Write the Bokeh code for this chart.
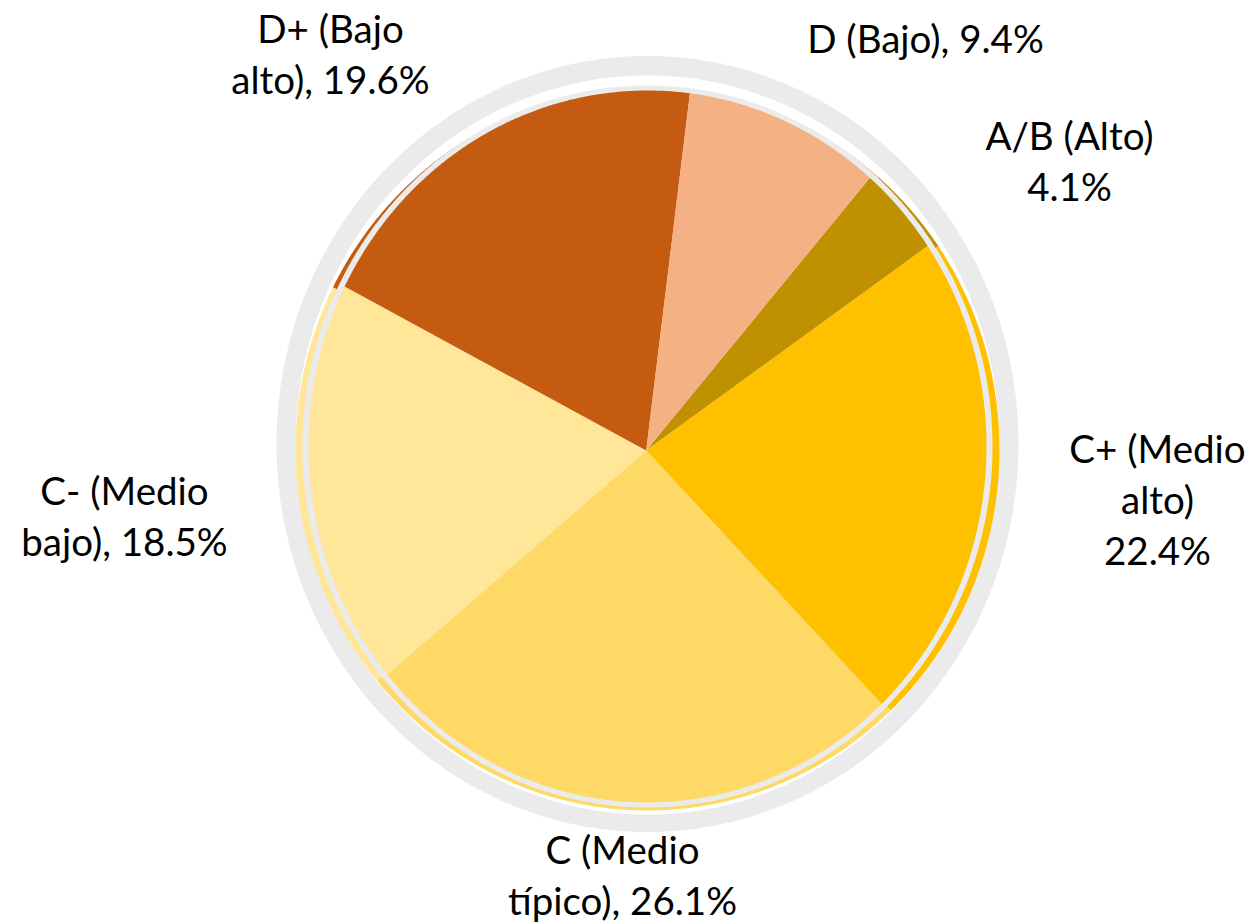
import numpy as np
from bokeh.plotting import figure
from bokeh.models import Range1d
from bokeh.embed import file_html
from bokeh.resources import INLINE
from bokeh.core.properties import value

# ---------------- data ----------------
categories = ["A/B (Alto)", "C+ (Medio alto)", "C (Medio típico)",
              "C- (Medio bajo)", "D+ (Bajo alto)", "D (Bajo)"]
shares = [4.1, 22.4, 26.1, 18.5, 19.6, 9.4]
# label wording as in the chart (line breaks + separator before the value)
label_names = ["A/B (Alto)", "C+ (Medio\nalto)", "C (Medio\ntípico)",
               "C- (Medio\nbajo)", "D+ (Bajo\nalto)", "D (Bajo)"]
label_seps = ["\n", "\n", ", ", ", ", ", ", ", "]

# ---------------- style / layout ----------------
colors = ["#BF9000", "#FFC000", "#FFD966", "#FFE699", "#C55A11", "#F4B183"]
start_deg = 41.0          # first slice begins here (clockwise from 12 o'clock)
label_pos = [(1069, 172.5), (1157, 511), (622, 887), (124, 527.5), (330, 66), (925, 50)]
line_step = 51
FS = 38.5
BASE_FIX = 13.0           # shift so that the alphabetic baseline lands where wanted
W, H = 1253, 922
FONT = "Lato"
GRAY = "#EBEBEB"

p = figure(width=W, height=H, output_backend="svg", toolbar_location=None,
           x_range=Range1d(0, W), y_range=Range1d(H, 0),
           x_axis_location=None, y_axis_location=None, min_border=0)
p.grid.visible = False
p.outline_line_color = None
p.background_fill_color = "white"
p.border_fill_color = "white"


def ellipse_pts(cx, cy, rx, ry, n=720):
    t = np.linspace(0, 2 * np.pi, n)
    return list(cx + rx * np.sin(t)), list(cy - ry * np.cos(t))


def wedges(cx, cy, rx, ry, apex=None):
    ax, ay = apex if apex else (cx, cy)
    vals = np.array(shares, dtype=float)
    frac = vals / vals.sum()
    edges = np.radians(start_deg) + 2 * np.pi * np.concatenate([[0], np.cumsum(frac)])
    xs, ys = [], []
    for a0, a1 in zip(edges[:-1], edges[1:]):
        t = np.linspace(a0, a1, 200)
        xs.append([ax] + list(cx + rx * np.sin(t)) + [ax])
        ys.append([ay] + list(cy - ry * np.cos(t)) + [ay])
    return xs, ys


# outer gray ring
x, y = ellipse_pts(647, 443.5, 371, 388)
p.patch(x, y, fill_color=GRAY, line_color=None)
# white inner area
x, y = ellipse_pts(647, 444.5, 352, 369.5)
p.patch(x, y, fill_color="white", line_color=None)
# coloured offset copy (bevel/shadow ring)
xs, ys = wedges(647, 449, 352, 361)
p.patches(xs, ys, fill_color=colors, line_color=None)
# thin gray ring round the pie
x, y = ellipse_pts(647, 446, 345, 361)
p.patch(x, y, fill_color=GRAY, line_color=None)
# main pie
xs, ys = wedges(647, 446, 339, 356, apex=(645.7, 450))
p.patches(xs, ys, fill_color=colors, line_color=None)

# labels
for name, sep, v, (lx, ly) in zip(label_names, label_seps, shares, label_pos):
    lines = (name + sep + f"{v:.1f}%").split("\n")
    n = len(lines)
    for i, line in enumerate(lines):
        yy = ly + (i - (n - 1) / 2) * line_step - BASE_FIX
        p.text(x=[lx], y=[yy], text=[line], text_align="center",
               text_baseline="alphabetic", text_font=value(FONT),
               text_font_size=value(f"{FS}px"), text_color="#000000")

open("out.html", "w").write(file_html(p, INLINE))
